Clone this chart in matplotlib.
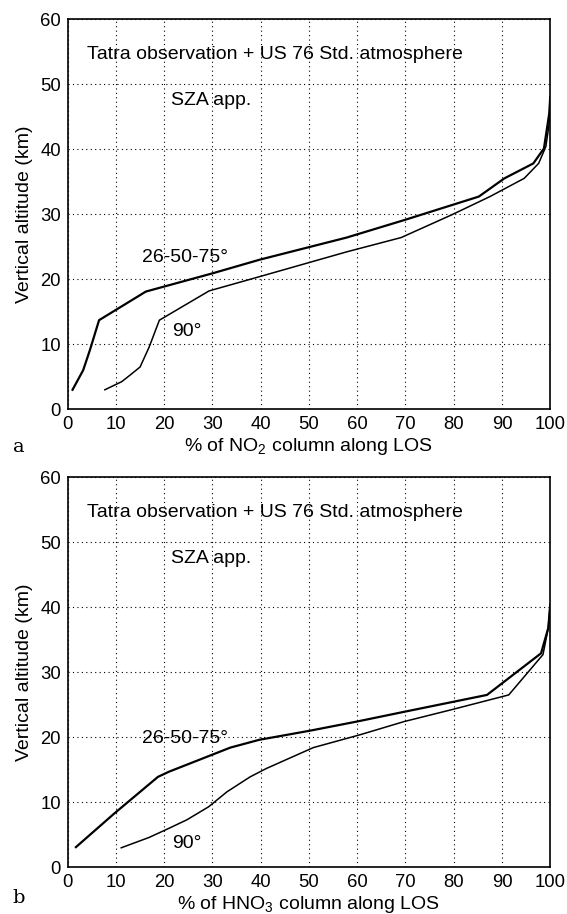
import numpy as np
import matplotlib
matplotlib.use('Agg')
import matplotlib.pyplot as plt

plt.rcParams['font.family'] = ['Liberation Sans', 'DejaVu Sans']
plt.rcParams['mathtext.fontset'] = 'custom'
plt.rcParams['mathtext.rm'] = 'Liberation Sans'

# panel a : NO2
no2_x_low = [1.0, 3.2, 4.6, 6.5, 16.2, 30.0, 39.8, 57.8, 69.8, 85.2, 90.5, 96.5, 98.7, 99.8, 100.0]
no2_y_low = [3.0, 6.0, 9.1, 13.7, 18.1, 20.9, 23.0, 26.4, 29.1, 32.7, 35.5, 37.8, 40.1, 45.5, 48.0]
no2_x_90 = [7.7, 11.2, 13.0, 15.0, 16.9, 19.0, 29.3, 39.8, 57.8, 69.1, 79.6, 87.5, 94.6, 97.6, 99.1, 99.8, 100.0]
no2_y_90 = [3.0, 4.25, 5.3, 6.5, 9.6, 13.7, 18.2, 20.4, 24.2, 26.4, 29.9, 32.7, 35.5, 37.8, 40.4, 44.0, 48.0]

# panel b : HNO3
hno3_x_low = [1.7, 9.7, 18.7, 21.0, 33.7, 39.7, 50.2, 59.9, 69.7, 86.9, 98.1, 99.6, 100.0]
hno3_y_low = [3.1, 8.3, 13.9, 14.7, 18.4, 19.6, 21.0, 22.4, 23.9, 26.5, 32.9, 36.8, 40.4]
hno3_x_90 = [11.1, 16.9, 21.0, 24.7, 29.2, 33.0, 37.8, 41.2, 50.9, 60.7, 69.7, 79.4, 91.4, 98.5, 99.6, 100.0]
hno3_y_90 = [3.0, 4.6, 6.0, 7.3, 9.3, 11.6, 13.9, 15.2, 18.4, 20.4, 22.4, 24.2, 26.5, 32.7, 36.8, 40.4]

xticks = np.arange(0, 101, 10)
yticks = np.arange(0, 61, 10)

fig = plt.figure(figsize=(5.67, 9.14), dpi=100)

panels = [
    (0.5522, no2_x_low, no2_y_low, no2_x_90, no2_y_90,
     '% of NO$_2$ column along LOS', 'a', 1 - 447 / 914, 23.4, 11.9),
    (0.0511, hno3_x_low, hno3_y_low, hno3_x_90, hno3_y_90,
     '% of HNO$_3$ column along LOS', 'b', 1 - 898 / 914, 19.8, 3.7),
]

for bottom, xl, yl, x9, y9, xlabel, tag, tag_y, y_lab1, y_lab2 in panels:
    ax = fig.add_axes([0.1194, bottom, 0.851, 0.427])
    ax.plot(xl, yl, color='black', lw=1.6)
    ax.plot(x9, y9, color='black', lw=1.1)
    ax.set_xlim(0, 100)
    ax.set_ylim(0, 60)
    ax.set_xticks(xticks)
    ax.set_yticks(yticks)
    ax.grid(True, color='black', linestyle=(0, (1, 3)), lw=0.8)
    ax.tick_params(length=0, labelsize=13.3, pad=5)
    for s in ax.spines.values():
        s.set_linewidth(1.2)
    ax.set_xlabel(xlabel, fontsize=14, labelpad=2)
    ax.set_ylabel('Vertical altitude (km)', fontsize=14, labelpad=5)
    ax.text(4.1, 54.5, 'Tatra observation + US 76 Std. atmosphere', fontsize=14, va='center')
    ax.text(21.5, 47.5, 'SZA app.', fontsize=14, va='center')
    ax.text(15.5, y_lab1, '26-50-75°', fontsize=14, va='center')
    ax.text(21.6, y_lab2, '90°', fontsize=14, va='center')
    fig.text(19 / 567, tag_y, tag, fontsize=14, family='DejaVu Serif', ha='center', va='center')

fig.savefig('out.png', dpi=100)
